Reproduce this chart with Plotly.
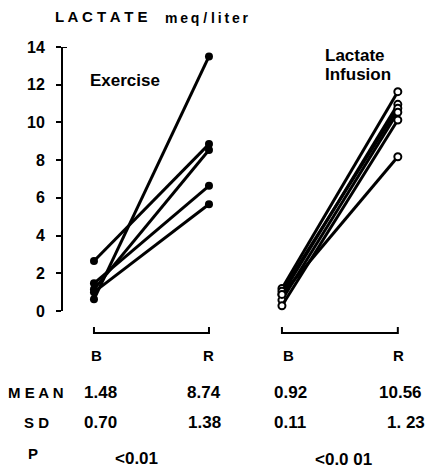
import plotly.graph_objects as go

# ---- data ----
phases = ["B", "R"]
exercise_B = [0.62, 2.65, 1.15, 1.47, 1.00]
exercise_R = [13.50, 8.85, 8.54, 6.64, 5.66]
infusion_B = [1.20, 0.88, 1.05, 0.58, 0.28, 0.88]
infusion_R = [11.63, 10.96, 10.75, 10.54, 10.13, 8.18]
y_ticks = [0, 2, 4, 6, 8, 10, 12, 14]
stat_rows = ["M E A N", "S D"]
exercise_stats = [["1.48", "8.74"], ["0.70", "1.38"]]
infusion_stats = [["0.92", "10.56"], ["0.11", "1. 23"]]
p_values = ["<0.01", "<0.0 01"]

FONT = "Liberation Sans, Arial, sans-serif"
W, H = 427, 470
ml, mr, mt, mb = 62, 6, 47, 0
PX_PER_UNIT = 18.86
ZERO_PIX = 311
Y_BOTTOM = -(H - ZERO_PIX) / PX_PER_UNIT
pw = W - ml - mr
ph = H - mt - mb

def pxf(xr):   # pixel column -> paper x
    return (xr - ml) / pw
def pyf(yr):   # pixel row -> paper y
    return 1 - (yr - mt) / ph
def yv(yr):    # pixel row -> value axis
    return (ZERO_PIX - yr) / PX_PER_UNIT

fig = go.Figure()

for b, r in zip(exercise_B, exercise_R):
    fig.add_trace(go.Scatter(
        x=phases, y=[b, r], mode="lines+markers", xaxis="x", yaxis="y",
        line=dict(color="black", width=3),
        marker=dict(color="black", size=8, symbol="circle"),
        cliponaxis=False, showlegend=False, hoverinfo="skip"))

for b, r in zip(infusion_B, infusion_R):
    fig.add_trace(go.Scatter(
        x=phases, y=[b, r], mode="lines+markers", xaxis="x2", yaxis="y",
        line=dict(color="black", width=3),
        marker=dict(color="white", size=7, symbol="circle",
                    line=dict(color="black", width=2)),
        cliponaxis=False, showlegend=False, hoverinfo="skip"))

shapes = []
shapes.append(dict(type="line", xref="paper", yref="y", x0=0, x1=0, y0=0, y1=14,
                   line=dict(color="black", width=2)))
shapes.append(dict(type="line", xref="paper", yref="y", x0=0, x1=pxf(67), y0=14, y1=14,
                   line=dict(color="black", width=2)))
for xr in ["x", "x2"]:
    shapes.append(dict(type="path", xref=xr, yref="y",
                       path=f"M 0,{yv(327)} L 0,{yv(333)} L 1,{yv(333)} L 1,{yv(327)}",
                       line=dict(color="black", width=2)))

anns = []
def add(xr, yr, t, size=15, xanchor="center"):
    anns.append(dict(x=pxf(xr), y=pyf(yr), xref="paper", yref="paper", text=f"<b>{t}</b>",
                     showarrow=False, xanchor=xanchor, yanchor="middle",
                     font=dict(family=FONT, size=size, color="black")))

TS = "\u2009"
NB = "\u00a0"
add(53, 17, "L A C T A T E", size=15, xanchor="left")
add(163, 18, f"m{TS}e{TS}q{NB}/{NB}l{TS}i{TS}t{TS}e{TS}r", size=14, xanchor="left")
add(88, 80, "Exercise", size=17, xanchor="left")
add(323, 55, "Lactate", size=17, xanchor="left")
add(323, 74, "Infusion", size=17, xanchor="left")

for xr, lab in zip([96, 208, 288, 398], ["B", "R", "B", "R"]):
    add(xr, 355, lab, size=15)

row_y = [392, 422]
stat_x = [100, 204, 290, 400]
for i, lab in enumerate(stat_rows):
    add(36, row_y[i], lab, size=15)
    vals = exercise_stats[i] + infusion_stats[i]
    for xr, v in zip(stat_x, vals):
        add(xr + (6 if (i == 1 and xr == 400) else 0), row_y[i], v, size=17)
add(33, 453, "P", size=15)
add(136, 458, p_values[0], size=17)
add(343, 459, p_values[1], size=17)

fig.update_layout(
    width=W, height=H,
    margin=dict(l=ml, r=mr, t=mt, b=mb, pad=0, autoexpand=False),
    paper_bgcolor="white", plot_bgcolor="white",
    showlegend=False, hovermode=False,
    annotations=anns, shapes=shapes,
    xaxis=dict(domain=[0, 0.4735], type="category", categoryorder="array",
               categoryarray=phases, range=[-0.278, 1.2], visible=False),
    xaxis2=dict(domain=[0.5223, 1.0], type="category", categoryorder="array",
                categoryarray=phases, range=[-0.28, 1.2], visible=False, anchor="y"),
    yaxis=dict(range=[Y_BOTTOM, 14], tickvals=y_ticks, ticktext=[str(v) for v in y_ticks],
               showline=False, automargin=False,
               ticks="outside", ticklen=5, tickwidth=2, tickcolor="black",
               showgrid=False, zeroline=False, ticklabelstandoff=8,
               tickfont=dict(family=FONT, size=16, color="black", weight="bold")),
)

fig.write_html("out.html", config={"displayModeBar": False, "staticPlot": True},
               post_script="document.body.style.margin='0';document.body.style.overflow='hidden';")
